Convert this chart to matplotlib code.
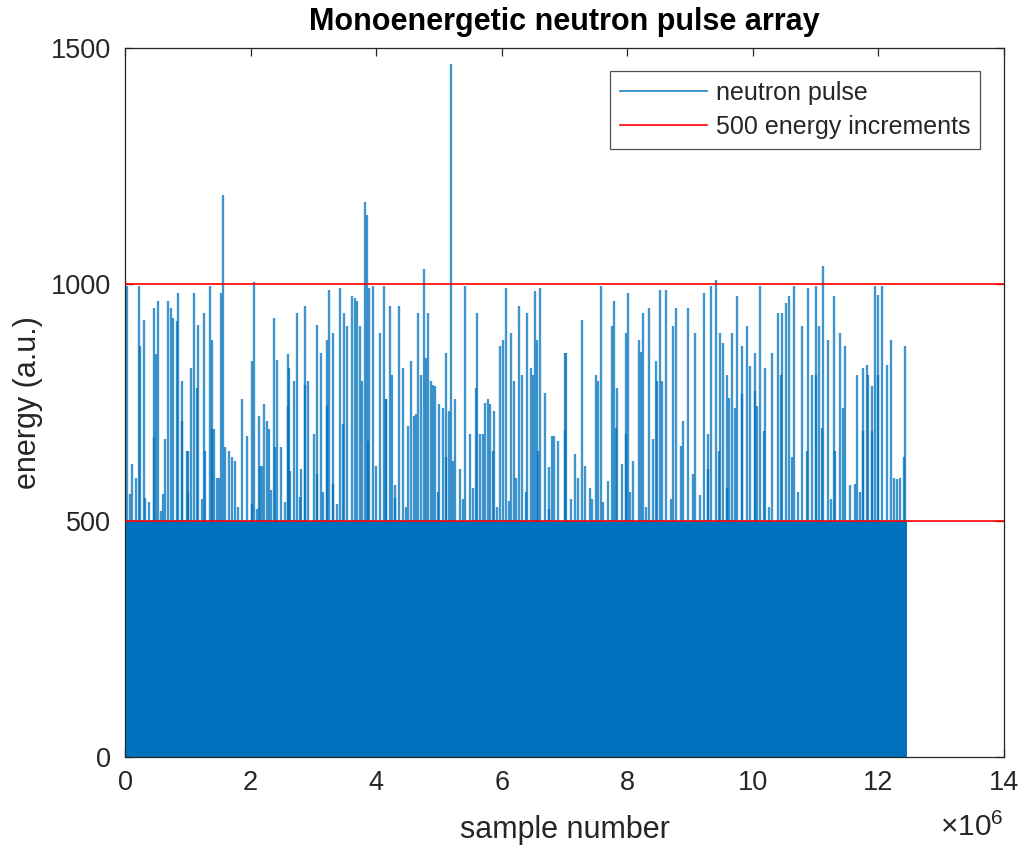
import matplotlib
matplotlib.use("Agg")
import matplotlib.pyplot as plt
from matplotlib.ticker import FuncFormatter

# pulse train (positions in units of 1e6 samples)
spike_pos = [
    0.03, 0.11, 0.18, 0.22, 0.24, 0.30, 0.32, 0.46, 0.49, 0.52, 0.63, 0.69, 0.73, 0.77,
    0.82, 0.85, 0.91, 0.99, 1.05, 1.10, 1.17, 1.26, 1.35, 1.38, 1.41, 1.46, 1.53, 1.56,
    1.59, 1.65, 1.70, 1.75, 1.86, 1.94, 2.03, 2.06, 2.14, 2.18, 2.21, 2.26, 2.30, 2.37,
    2.42, 2.49, 2.59, 2.61, 2.69, 2.74, 2.81, 2.87, 2.92, 3.01, 3.06, 3.12, 3.21, 3.25,
    3.31, 3.42, 3.49, 3.54, 3.61, 3.66, 3.70, 3.75, 3.82, 3.86, 3.89, 3.95, 3.99, 4.06,
    4.12, 4.16, 4.22, 4.25, 4.37, 4.43, 4.51, 4.56, 4.61, 4.67, 4.72, 4.76, 4.83, 4.88,
    4.93, 5.00, 5.06, 5.12, 5.16, 5.19, 5.26, 5.33, 5.42, 5.50, 5.60, 5.65, 5.73, 5.78,
    5.82, 5.88, 5.97, 6.02, 6.07, 6.15, 6.20, 6.27, 6.32, 6.41, 6.47, 6.53, 6.56, 6.61,
    6.69, 6.80, 6.83, 6.90, 7.00, 7.03, 7.16, 7.21, 7.28, 7.33, 7.44, 7.53, 7.58, 7.69,
    7.75, 7.79, 7.84, 7.92, 7.98, 8.01, 8.09, 8.19, 8.25, 8.34, 8.41, 8.46, 8.52, 8.56,
    8.62, 8.73, 8.78, 8.88, 8.97, 9.08, 9.22, 9.28, 9.34, 9.41, 9.47, 9.52, 9.62, 9.66,
    9.75, 9.82, 9.90, 9.96, 10.03, 10.07, 10.12, 10.19, 10.30, 10.40, 10.46, 10.52, 10.57,
    10.65, 10.79, 10.88, 10.94, 11.01, 11.06, 11.12, 11.19, 11.29, 11.39, 11.47, 11.66,
    11.75, 11.81, 11.84, 11.90, 11.95, 12.00, 12.06, 12.14, 12.20, 12.29, 12.43,
]
spike_energy = [
    996, 620, 591, 996, 869, 925, 549, 950, 852, 964, 672, 964, 950, 929,
    922, 982, 795, 648, 823, 982, 915, 940, 996, 883, 693, 591, 982, 1189,
    655, 648, 634, 627, 757, 679, 838, 1006, 722, 616, 746, 711, 693, 929,
    841, 655, 852, 823, 795, 940, 609, 954, 795, 683, 915, 855, 883, 989,
    897, 992, 940, 911, 975, 971, 964, 911, 1175, 1147, 992, 996, 616, 897,
    996, 757, 954, 809, 954, 823, 700, 838, 722, 940, 809, 1033, 940, 795,
    785, 746, 739, 855, 732, 1467, 757, 609, 996, 683, 940, 683, 750, 757,
    746, 732, 869, 883, 992, 897, 795, 954, 809, 940, 823, 985, 883, 992,
    771, 679, 679, 669, 855, 855, 641, 591, 925, 616, 546, 795, 996, 584,
    911, 964, 781, 620, 897, 982, 627, 883, 940, 950, 672, 838, 989, 795,
    989, 911, 950, 711, 950, 897, 982, 609, 996, 1010, 897, 876, 760, 897,
    975, 869, 911, 827, 855, 743, 996, 823, 855, 940, 940, 961, 975,
    996, 911, 992, 809, 996, 911, 1038, 883, 975, 897, 869, 809,
    823, 830, 809, 785, 996, 978, 996, 830, 883, 588, 869,
]
# medium pulses hidden between the tall ones
mid_pos = [0.46, 0.61, 0.91, 1.01, 1.14, 1.28, 1.38, 1.49, 2.02, 2.15, 2.39, 2.60,
           2.63, 2.87, 3.05, 3.21, 3.32, 3.47, 3.77, 3.87, 4.15, 4.30, 4.64, 4.80,
           4.90, 5.12, 5.22, 5.59, 5.70, 5.86, 6.12, 6.23, 6.49, 6.57, 6.76, 7.00,
           7.50, 7.82, 7.98, 8.22, 8.48, 8.85, 9.04, 9.28, 9.46, 9.59, 9.72, 9.83,
           10.04, 10.17, 10.44, 10.63, 10.86, 11.00, 11.10, 11.31, 11.44, 11.63,
           11.76, 11.90, 12.00, 12.24, 12.40]
mid_energy = [676, 556, 711, 648, 781, 648, 693, 591, 535, 616, 655, 743,
              605, 788, 598, 743, 577, 704, 795, 669, 757, 549, 725, 845,
              788, 634, 627, 781, 683, 648, 542, 591, 809, 648, 613, 690,
              809, 697, 683, 856, 795, 658, 598, 683, 648, 809, 739, 767,
              774, 690, 809, 634, 648, 809, 697, 648, 739, 577,
              690, 690, 809, 591, 634]
# low pulses just above the floor
small_pos = [0.08, 0.38, 0.58, 1.00, 1.22, 1.80, 2.10, 2.33, 2.55, 2.78, 3.15, 3.38,
             4.30, 4.47, 4.98, 5.38, 5.55, 5.92, 6.38, 6.75, 7.10, 7.40, 7.62, 8.05,
             8.30, 8.70, 9.15, 9.58, 10.25, 10.72, 11.25, 11.55, 11.70, 12.35]
small_energy = [556, 540, 520, 560, 545, 530, 525, 565, 540, 550, 560, 535,
                575, 530, 560, 545, 570, 530, 560, 525, 545, 570, 540, 560,
                530, 545, 555, 570, 530, 560, 545, 575, 560, 590]

pulse_floor = 500          # every pulse reaches at least this level
last_sample = 12.45e6      # end of the recorded pulse array
x_max = 14e6
increments = [500, 1000]   # energy increment lines

blue = "#0072BD"
axis_col = "#262626"

plt.rcParams["font.family"] = ["Liberation Sans", "DejaVu Sans"]
plt.rcParams["mathtext.fontset"] = "custom"
plt.rcParams["mathtext.rm"] = "Liberation Sans"

fig = plt.figure(figsize=(10.24, 8.5), dpi=100)
ax = fig.add_axes([0.1221, 0.1094, 0.8584, 0.8341])

ax.fill_between([0, last_sample], 0, pulse_floor, color=blue, linewidth=0, zorder=2)
for pos, en in [(spike_pos, spike_energy), (mid_pos, mid_energy),
                (small_pos, small_energy)]:
    ax.vlines([p * 1e6 for p in pos], pulse_floor, en, color=blue,
              linewidth=1.7, alpha=0.75, zorder=2)
ax.plot([], [], color=blue, linewidth=1.3, alpha=0.8, label="neutron pulse")

for i, lvl in enumerate(increments):
    ax.axhline(lvl, color="red", linewidth=1.2, zorder=3,
               label="500 energy increments" if i == 0 else None)

ax.set_xlim(0, x_max)
ax.set_ylim(0, 1500)
ax.set_xticks([i * 2e6 for i in range(8)])
ax.set_yticks([0, 500, 1000, 1500])
ax.xaxis.set_major_formatter(FuncFormatter(lambda v, _: f"{v / 1e6:g}"))

ax.tick_params(direction="in", top=True, right=True, length=6, width=0.9,
               colors=axis_col, labelsize=19.5)
ax.tick_params(axis="y", pad=10)
ax.tick_params(axis="x", pad=9)
for s in ax.spines.values():
    s.set_color(axis_col)
    s.set_linewidth(0.9)

ax.set_xlabel("sample number", fontsize=22, color=axis_col, labelpad=14)
ax.set_ylabel("energy (a.u.)", fontsize=22, color=axis_col, labelpad=6)
ax.set_title("Monoenergetic neutron pulse array", fontsize=22, fontweight="bold",
             color="black", pad=13)
ax.text(1.0, -0.099, r"$\mathrm{\times10^{6}}$", transform=ax.transAxes, ha="right",
        va="center", fontsize=21.5, color=axis_col)

leg = ax.legend(loc="upper right", bbox_to_anchor=(0.973, 0.968), fontsize=18,
                frameon=True, fancybox=False, handlelength=3.5, borderpad=0.4,
                labelspacing=0.4, handletextpad=0.35, borderaxespad=0)
leg.get_frame().set_edgecolor(axis_col)
leg.get_frame().set_linewidth(0.9)
for t in leg.get_texts():
    t.set_color(axis_col)

fig.savefig("out.png", dpi=100)
